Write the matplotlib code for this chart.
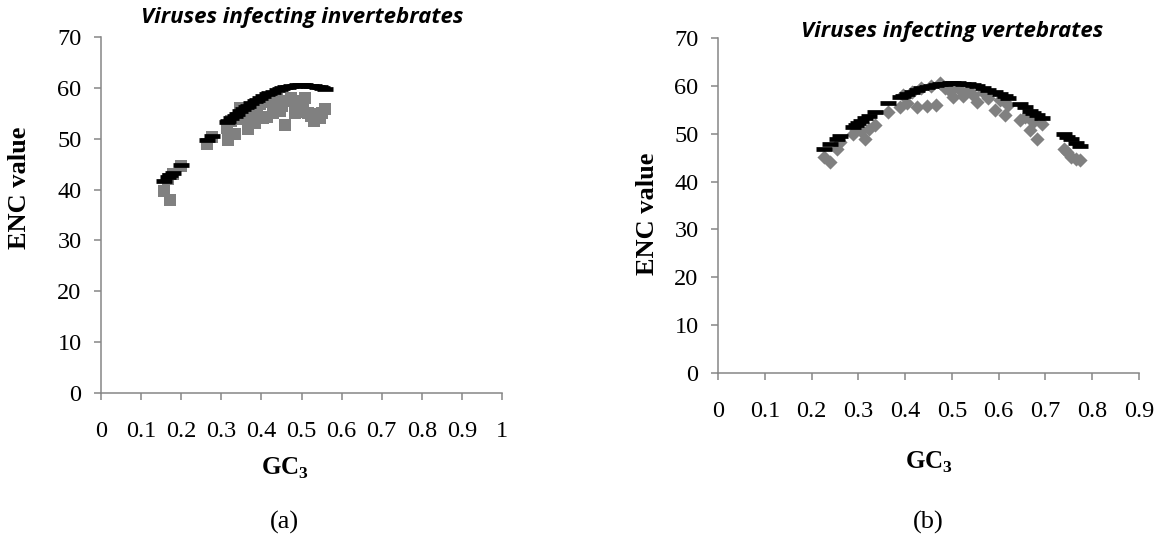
import numpy as np
import matplotlib
matplotlib.use('Agg')
import matplotlib.pyplot as plt

# (a) viruses infecting invertebrates: GC3, observed ENC, expected ENC
gc3_a = [0.157, 0.168, 0.173, 0.180, 0.199, 0.264, 0.276, 0.313, 0.317, 0.325,
         0.333, 0.340, 0.347, 0.355, 0.362, 0.367, 0.375, 0.383, 0.388, 0.396,
         0.405, 0.413, 0.420, 0.428, 0.438, 0.446, 0.452, 0.459, 0.466, 0.475,
         0.483, 0.490, 0.496, 0.503, 0.509, 0.517, 0.524, 0.530, 0.538, 0.545,
         0.552, 0.559]
enc_a = [39.7, 42.0, 37.9, 43.0, 44.6, 49.0, 50.3, 52.2, 49.8, 53.5,
         51.0, 54.0, 56.0, 53.8, 54.5, 52.0, 55.5, 53.0, 55.5, 56.8,
         54.0, 54.2, 57.2, 55.0, 57.8, 55.5, 56.5, 52.6, 57.5, 58.1,
         55.0, 57.0, 55.2, 57.5, 58.1, 55.0, 54.5, 53.5, 54.8, 54.0,
         55.0, 55.8]
exp_a = [41.6, 42.4, 42.8, 43.3, 44.8, 49.7, 50.6, 53.2, 53.5, 54.0,
         54.5, 54.9, 55.4, 55.9, 56.3, 56.5, 57.0, 57.4, 57.6, 58.0,
         58.4, 58.7, 59.0, 59.2, 59.6, 59.8, 59.9, 60.1, 60.2, 60.3,
         60.4, 60.5, 60.5, 60.5, 60.5, 60.4, 60.4, 60.3, 60.2, 60.1,
         59.9, 59.8]

# (b) viruses infecting vertebrates
gc3_b = [0.227, 0.240, 0.255, 0.261, 0.288, 0.294, 0.300, 0.306, 0.314, 0.322,
         0.335, 0.364, 0.389, 0.395, 0.405, 0.415, 0.425, 0.435, 0.446, 0.456,
         0.466, 0.475, 0.485, 0.495, 0.503, 0.512, 0.524, 0.535, 0.545, 0.553,
         0.567, 0.578, 0.592, 0.603, 0.613, 0.620, 0.645, 0.656, 0.667, 0.674,
         0.681, 0.692, 0.739, 0.747, 0.754, 0.765, 0.774]
enc_b = [45.2, 44.1, 46.9, 48.3, 50.0, 50.7, 51.5, 50.5, 48.8, 51.0,
         51.8, 54.6, 55.5, 58.0, 56.5, 58.8, 55.6, 59.5, 55.7, 60.0,
         55.9, 60.5, 59.5, 59.0, 57.7, 59.5, 57.8, 59.2, 58.0, 56.6,
         58.7, 57.5, 54.9, 57.0, 53.9, 56.0, 52.8, 53.5, 50.7, 52.4,
         49.0, 52.1, 46.9, 46.2, 45.2, 44.7, 44.5]
exp_b = [46.9, 47.9, 49.0, 49.5, 51.5, 51.9, 52.3, 52.7, 53.3, 53.8,
         54.6, 56.4, 57.7, 57.9, 58.4, 58.8, 59.2, 59.5, 59.8, 60.0,
         60.2, 60.3, 60.4, 60.5, 60.5, 60.5, 60.4, 60.3, 60.1, 59.9,
         59.5, 59.2, 58.7, 58.2, 57.8, 57.5, 56.2, 55.5, 54.8, 54.4,
         54.0, 53.2, 50.0, 49.4, 48.9, 48.0, 47.4]

xticks_a = [0, 0.1, 0.2, 0.3, 0.4, 0.5, 0.6, 0.7, 0.8, 0.9, 1]
xticks_b = [0, 0.1, 0.2, 0.3, 0.4, 0.5, 0.6, 0.7, 0.8, 0.9]
yticks = [0, 10, 20, 30, 40, 50, 60, 70]

W, H = 1159, 541
axis_grey = '#868686'
serif = 'Liberation Serif'


def style_axes(ax, xticks, xmax):
    ax.set_xlim(0, xmax)
    ax.set_ylim(0, 70)
    ax.set_xticks(xticks)
    ax.set_xticklabels(['%g' % t for t in xticks])
    ax.set_yticks(yticks)
    for s in ['top', 'right']:
        ax.spines[s].set_visible(False)
    for s in ['left', 'bottom']:
        ax.spines[s].set_color(axis_grey)
        ax.spines[s].set_linewidth(1.1)
    ax.tick_params(axis='both', direction='out', color=axis_grey, width=1.1,
                   length=5, labelsize=17.5)
    ax.tick_params(axis='x', pad=15)
    ax.tick_params(axis='y', pad=9)
    for lab in ax.get_xticklabels() + ax.get_yticklabels():
        lab.set_fontfamily(serif)
    ax.patch.set_alpha(0)


def main():
    fig = plt.figure(figsize=(W / 100, H / 100), dpi=100)

    # axes placed by pixel box (left, top, right, bottom)
    def add_axes(l, t, r, b):
        return fig.add_axes([l / W, 1 - b / H, (r - l) / W, (b - t) / H])

    ax1 = add_axes(101, 37, 502, 393)
    ax2 = add_axes(718, 38, 1139, 373)

    ax1.scatter(gc3_a, enc_a, marker='s', s=78, color='#808080', linewidths=0, zorder=2)
    ax1.plot(gc3_a, exp_a, linestyle='none', marker='_', markersize=11,
             markeredgewidth=3.4, color='black', zorder=3)
    style_axes(ax1, xticks_a, 1)

    ax2.scatter(gc3_b, enc_b, marker='D', s=52, color='#808080', linewidths=0, zorder=2)
    ax2.plot(gc3_b, exp_b, linestyle='none', marker='_', markersize=11,
             markeredgewidth=3.4, color='black', zorder=3)
    style_axes(ax2, xticks_b, 0.9)

    def ftext(x, y, s, **kw):
        fig.text(x / W, 1 - y / H, s, ha='center', va='center', **kw)

    title_kw = dict(fontfamily='Open Sans', fontweight='bold', fontstyle='italic', fontsize=16)
    ftext(302, 17, 'Viruses infecting invertebrates', **title_kw)
    ftext(952, 31, 'Viruses infecting vertebrates', **title_kw)

    lab_kw = dict(fontfamily=serif, fontweight='bold', fontsize=19)
    ftext(20, 188, 'ENC value', rotation=90, **lab_kw)
    ftext(648, 214, 'ENC value', rotation=90, **lab_kw)
    gc_kw = dict(fontfamily=serif, fontweight='bold', fontsize=18)
    ftext(285, 468, r'GC$_\mathbf{3}$', **gc_kw)
    ftext(929, 462, r'GC$_\mathbf{3}$', **gc_kw)

    ftext(284, 522, '(a)', fontfamily=serif, fontsize=19)
    ftext(928, 522, '(b)', fontfamily=serif, fontsize=19)

    fig.savefig('out.png', dpi=100)


if __name__ == '__main__':
    plt.rcParams['mathtext.fontset'] = 'custom'
    plt.rcParams['mathtext.rm'] = 'Liberation Serif'
    plt.rcParams['mathtext.bf'] = 'Liberation Serif:bold'
    main()
